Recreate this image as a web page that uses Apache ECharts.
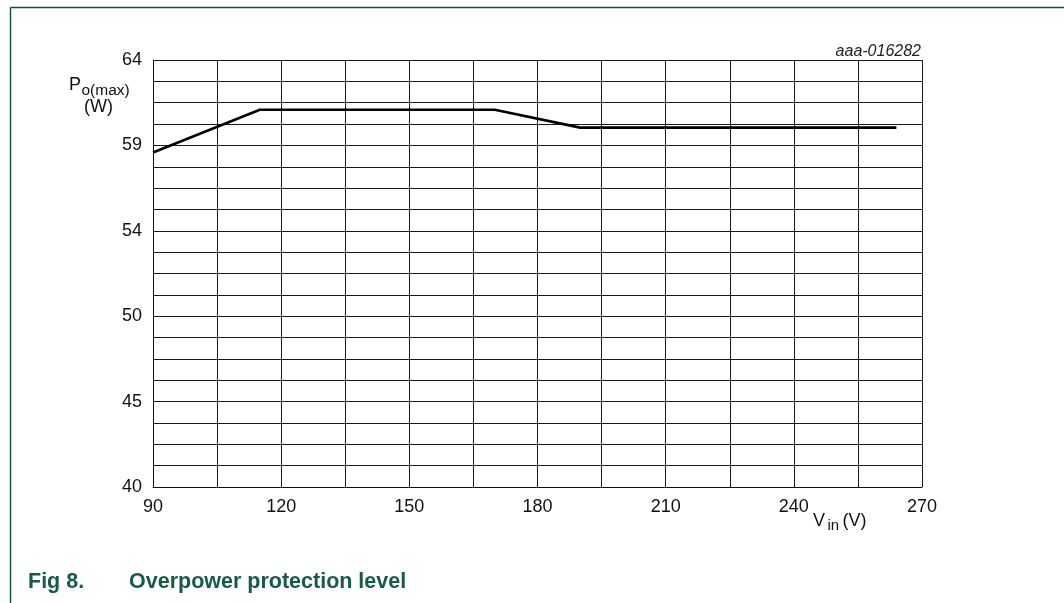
<!DOCTYPE html>
<html>
<head>
<meta charset="utf-8">
<script src="https://cdn.jsdelivr.net/npm/echarts@6/dist/echarts.min.js"></script>
<style>
  html, body { margin: 0; padding: 0; background: #fff; }
  #chart { width: 1064px; height: 603px; }
</style>
</head>
<body>
<div id="chart"></div>
<script>
// Input voltage (V) and maximum output power (W) breakpoints of the OPP curve
const vin = [90, 115, 170, 190, 264];
const poMax = [58.8, 61.2, 61.2, 60.2, 60.2];

// Axis ranges and grid steps
const xMin = 90, xMax = 270, xStep = 15, xLabelStep = 30;
const yMin = 40, yMax = 64, yStep = 1.2, yLabelEvery = 4;

const FONT = '"Liberation Sans", Arial, Helvetica, sans-serif';
const frameColor = '#0d5040';
const captionColor = '#145c46';

const chart = echarts.init(document.getElementById('chart'), null, { renderer: 'canvas' });

const option = {
  animation: false,
  backgroundColor: '#fff',
  grid: { left: 153, top: 60, width: 769, height: 427, containLabel: false },
  xAxis: {
    type: 'value',
    min: xMin, max: xMax, interval: xStep,
    axisLine: { show: true, lineStyle: { color: '#111', width: 1 } },
    axisTick: { show: false },
    splitLine: { show: true, lineStyle: { color: '#1a1a1a', width: 1 } },
    axisLabel: {
      margin: 11,
      color: '#111',
      fontFamily: FONT,
      fontSize: 18,
      formatter: v => (Math.abs((v - xMin) % xLabelStep) < 1e-6 ? String(v) : '')
    }
  },
  yAxis: {
    type: 'value',
    min: yMin, max: yMax, interval: yStep,
    axisLine: { show: true, lineStyle: { color: '#111', width: 1 } },
    axisTick: { show: false },
    splitLine: { show: true, lineStyle: { color: '#1a1a1a', width: 1 } },
    axisLabel: {
      margin: 11,
      color: '#111',
      fontFamily: FONT,
      fontSize: 18,
      formatter: v => {
        const k = (v - yMin) / (yStep * yLabelEvery);
        return Math.abs(k - Math.round(k)) < 1e-6 ? String(Math.round(v)) : '';
      }
    }
  },
  series: [{
    type: 'line',
    data: vin.map((x, i) => [x, poMax[i]]),
    symbol: 'none',
    lineStyle: { color: '#000', width: 2.6 },
    z: 5
  }],
  graphic: [
    // page frame
    { type: 'line', shape: { x1: 10.5, y1: 7.5, x2: 1064, y2: 7.5 }, style: { stroke: frameColor, lineWidth: 1.4 } },
    { type: 'line', shape: { x1: 10.5, y1: 7.5, x2: 10.5, y2: 603 }, style: { stroke: frameColor, lineWidth: 1.4 } },
    // figure code
    { type: 'text', x: 921, y: 52, style: { text: 'aaa-016282', font: 'italic 16px ' + FONT, fill: '#222', align: 'right', verticalAlign: 'middle' } },
    // y axis name: P o(max) (W)
    { type: 'text', x: 69, y: 85, style: { text: 'P', font: '18px ' + FONT, fill: '#111', align: 'left', verticalAlign: 'middle' } },
    { type: 'text', x: 81.5, y: 91, style: { text: 'o(max)', font: '15.5px ' + FONT, fill: '#111', align: 'left', verticalAlign: 'middle' } },
    { type: 'text', x: 98.5, y: 107, style: { text: '(W)', font: '18px ' + FONT, fill: '#111', align: 'center', verticalAlign: 'middle' } },
    // x axis name: V in (V)
    { type: 'text', x: 813, y: 521, style: { text: 'V', font: '18px ' + FONT, fill: '#111', align: 'left', verticalAlign: 'middle' } },
    { type: 'text', x: 827.5, y: 526, style: { text: 'in', font: '15px ' + FONT, fill: '#111', align: 'left', verticalAlign: 'middle' } },
    { type: 'text', x: 842.5, y: 521, style: { text: '(V)', font: '18px ' + FONT, fill: '#111', align: 'left', verticalAlign: 'middle' } },
    // caption
    { type: 'text', x: 28, y: 582, style: { text: 'Fig 8.', font: 'bold 21.5px ' + FONT, fill: captionColor, align: 'left', verticalAlign: 'middle' } },
    { type: 'text', x: 129, y: 582, style: { text: 'Overpower protection level', font: 'bold 21.5px ' + FONT, fill: captionColor, align: 'left', verticalAlign: 'middle' } }
  ]
};

chart.setOption(option);
</script>
</body>
</html>
